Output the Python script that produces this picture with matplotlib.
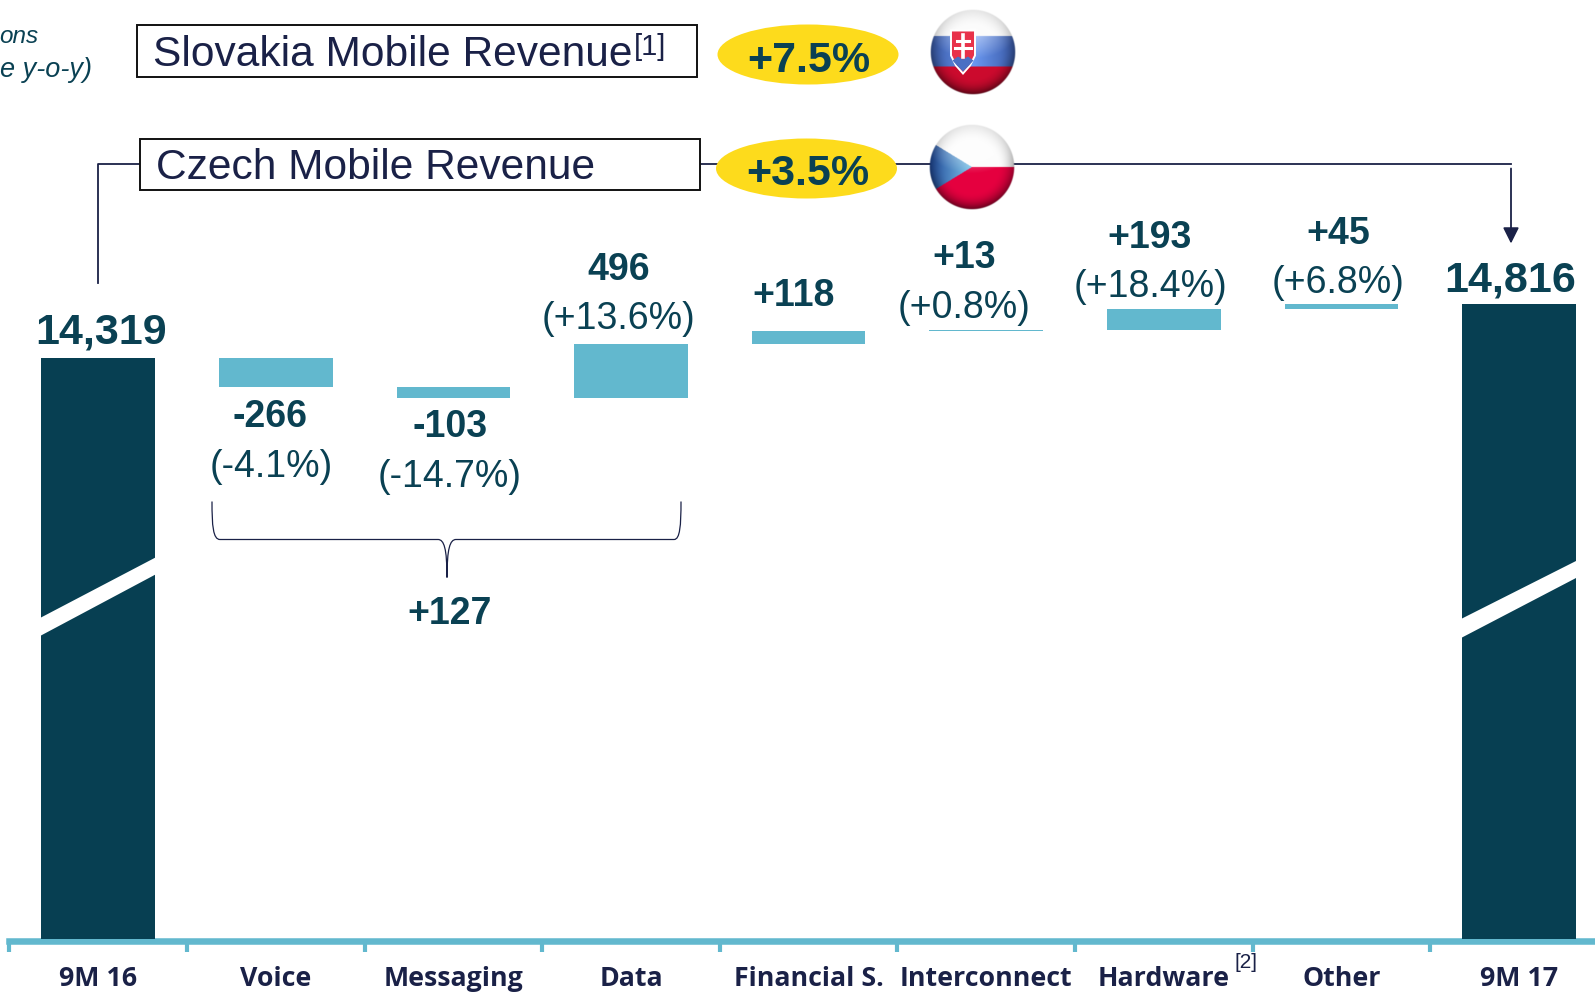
import numpy as np
import matplotlib
matplotlib.use('Agg')
import matplotlib.pyplot as plt
from matplotlib.patches import Ellipse, Rectangle, Polygon, PathPatch
from matplotlib.path import Path

# values, CZK millions
categories = ['9M 16', 'Voice', 'Messaging', 'Data', 'Financial S.', 'Interconnect', 'Hardware', 'Other', '9M 17']
start_value = 14319
end_value = 14816
deltas = [-266, -103, 496, 118, 13, 193, 45]
delta_labels = ['-266', '-103', '496', '+118', '+13', '+193', '+45']
pct_labels = ['(-4.1%)', '(-14.7%)', '(+13.6%)', '', '(+0.8%)', '(+18.4%)', '(+6.8%)']
group_total = '+127'
slovak_growth = '+7.5%'
czech_growth = '+3.5%'

DARK = '#073F52'
TEAL = '#62B8CE'
TXT = '#0A4153'
NAVY = '#1A2147'
YELLOW = '#FDDB1C'
W, H = 1595, 995

plt.rcParams['font.family'] = ['Liberation Sans', 'DejaVu Sans']
fig = plt.figure(figsize=(W / 100, H / 100), dpi=100)
ax = fig.add_axes([0, 0, 1, 1])

# y scale: 14319 sits at pixel 359, 0.1087 px per unit, base of the cut axis at pixel 939.5
py_scale = 0.1087
val_at = lambda py: start_value + (359 - py) / py_scale
base = val_at(939.5)
ax.set_ylim(val_at(995), val_at(0))
ax.set_xlim((0 - 98.2) / 177.6, (W - 98.2) / 177.6)

# waterfall
ax.bar(0, start_value - base, bottom=base, width=0.64, color=DARK, zorder=3)
ax.bar(8, end_value - base, bottom=base, width=0.64, color=DARK, zorder=3)
running = start_value
for i, d in enumerate(deltas):
    ax.bar(i + 1, abs(d), bottom=min(running, running + d), width=0.64, color=TEAL, zorder=3)
    running += d

# axis line with boundary ticks
for s in ['top', 'left', 'right']:
    ax.spines[s].set_visible(False)
ax.spines['bottom'].set_position(('data', val_at(942)))
ax.spines['bottom'].set_color(TEAL)
ax.spines['bottom'].set_linewidth(4.7)
ax.spines['bottom'].set_bounds(-0.5, ax.get_xlim()[1])
ax.set_yticks([])
ax.set_xticks(np.arange(-0.5, 8, 1))
ax.set_xticklabels([])
ax.tick_params(axis='x', which='major', length=8, width=3, color=TEAL)
ax.set_xticks(np.arange(len(categories)), labels=categories, minor=True)
ax.tick_params(axis='x', which='minor', length=0, pad=17, labelsize=19.3, labelcolor=NAVY)
for lab in ax.get_xticklabels(minor=True):
    lab.set_fontfamily('Open Sans')
    lab.set_fontweight('bold')

# overlay in pixel coordinates for the callouts
ov = fig.add_axes([0, 0, 1, 1], zorder=5)
ov.axis('off')
ov.patch.set_alpha(0)

def t(x, y, s, size, bold=False, color=TXT, ha='center', **kw):
    ov.text(x, y, s, fontsize=size, fontweight='bold' if bold else 'normal', color=color,
            ha=ha, va='center', **kw)

# breaks in the two tall bars
ov.add_patch(Polygon([(41, 617), (155.5, 557), (155.5, 574), (41, 635)], fc='white', ec='none'))
ov.add_patch(Polygon([(1462, 618), (1577, 560), (1577, 577), (1462, 637)], fc='white', ec='none'))

# value labels
label_pos = [(270, 416), (450, 426), (619, 269), (794, 295), (964, 257), (1150, 237), (1338, 233)]
pct_pos = [(271, 466), (450, 476), (619, 318), None, (964, 307), (1150, 286), (1338, 282)]
for s, p in zip(delta_labels, label_pos):
    t(p[0], p[1], s, 27, bold=True)
for s, p in zip(pct_labels, pct_pos):
    if p:
        t(p[0], p[1], s, 27)
t(101, 331, f'{start_value:,}', 31, bold=True)
t(1510, 279, f'{end_value:,}', 31, bold=True)
t(450, 613, group_total, 27, bold=True)

# brace under voice / messaging / data
brace = Path([(212, 501), (212, 525), (213, 539), (220, 539), (438, 539), (444, 539), (447, 548), (447, 577),
              (447, 548), (450, 539), (456, 539), (674, 539), (680, 539), (681, 525), (681, 501)],
             [Path.MOVETO, Path.CURVE4, Path.CURVE4, Path.CURVE4, Path.LINETO, Path.CURVE4, Path.CURVE4, Path.CURVE4,
              Path.CURVE4, Path.CURVE4, Path.CURVE4, Path.LINETO, Path.CURVE4, Path.CURVE4, Path.CURVE4])
ov.add_patch(PathPatch(brace, fc='none', ec=NAVY, lw=0.9))

# connector and arrow
ov.plot([97.5, 97.5, 140], [282, 163.5, 163.5], color=NAVY, lw=1.3)
ov.plot([700, 1511], [163.5, 163.5], color=NAVY, lw=1.3, zorder=1)
ov.annotate('', xy=(1511, 243), xytext=(1511, 168),
            arrowprops=dict(arrowstyle='-|>', color=NAVY, lw=1.3, mutation_scale=24, shrinkA=0, shrinkB=0))

# boxes
ov.add_patch(Rectangle((137, 24), 560, 52, fc='white', ec='#111111', lw=1.4, zorder=2))
ov.add_patch(Rectangle((140, 138), 560, 51, fc='white', ec='#111111', lw=1.4, zorder=2))
t(153, 53.5, 'Slovakia Mobile Revenue', 30.6, color=NAVY, ha='left', zorder=3)
t(634, 46, '[1]', 21, color=NAVY, ha='left', zorder=3)
t(156, 166.5, 'Czech Mobile Revenue', 30.6, color=NAVY, ha='left', zorder=3)
t(1246, 961, '[2]', 15, color=NAVY)

# pills
ov.add_patch(Ellipse((808, 54), 181, 60, fc=YELLOW, ec='none', zorder=2))
ov.add_patch(Ellipse((806.5, 168), 181, 60, fc=YELLOW, ec='none', zorder=2))
t(809, 59.5, slovak_growth, 31, bold=True, zorder=3)
t(808, 172.5, czech_growth, 31, bold=True, zorder=3)

# cropped unit note
t(38, 35, 'ons', 17.5, color=TXT, ha='right', style='italic')
t(92, 69, 'e y-o-y)', 19.5, color=TXT, ha='right', style='italic')

# glossy flag badges
def shade(rgb, yy, xx):
    r = np.sqrt(xx ** 2 + yy ** 2)
    edge = np.clip((r - 0.6) / 0.4, 0, 1) ** 2
    dark = 1 - 0.6 * edge * (0.15 + 0.85 * (yy + 1) / 2)
    out = rgb * dark[..., None]
    gloss = np.clip(0.5 * (1 - np.sqrt(xx ** 2 + ((yy + 0.45) / 0.6) ** 2)), 0, 0.5)
    out = out + (1 - out) * gloss[..., None]
    return np.dstack([out, np.clip((1 - r) * 40, 0, 1)])

def flag_image(kind, n=172):
    g = np.linspace(-1, 1, n)
    xx, yy = np.meshgrid(g, g)
    rgb = np.zeros((n, n, 3))
    light = np.clip(1 - np.abs(xx) * 0.9, 0, 1)[..., None]
    if kind == 'sk':
        blue = np.array([0.2, 0.32, 0.62]) * (1 - light) + np.array([0.42, 0.6, 0.95]) * light
        rgb[:] = (0.98, 0.98, 0.98)
        mask = yy > -0.37
        rgb[mask] = blue[mask]
        rgb[yy > 0.34] = (0.80, 0.04, 0.18)
    else:
        rgb[:] = (0.99, 0.99, 0.99)
        rgb[yy > 0] = (0.90, 0.0, 0.25)
        mix = np.clip(xx + 1, 0, 1)[..., None]
        blue = np.array([0.12, 0.28, 0.6]) * (1 - mix) + np.array([0.5, 0.78, 0.92]) * mix
        mask = (xx < 0) & (np.abs(yy) < -0.61 * xx)
        rgb[mask] = blue[mask]
    return shade(rgb, yy, xx)

ov.imshow(flag_image('sk'), extent=(929.5, 1015.5, 95, 9), zorder=4, interpolation='bilinear', aspect='auto')
ov.imshow(flag_image('cz'), extent=(928.5, 1014.5, 210, 124), zorder=4, interpolation='bilinear', aspect='auto')

# slovak shield with double cross
ov.add_patch(Polygon([(951, 30), (975, 30), (975, 55), (970, 65), (963, 73), (956, 65), (951, 55)],
                     fc='#E8324A', ec='white', lw=1.4, zorder=5))
ov.add_patch(Polygon([(952.5, 60), (958, 56), (963, 59), (968, 56), (973.5, 60), (969, 65), (963, 71), (957, 65)],
                     fc='#4A6FC4', ec='none', zorder=6))
ov.plot([963, 963], [34, 56], color='white', lw=2.6, zorder=6)
ov.plot([957, 969], [40, 40], color='white', lw=2.2, zorder=6)
ov.plot([955, 971], [47, 47], color='white', lw=2.2, zorder=6)

# shift the whole overlay down with the bars
ov.set_xlim(0, W)
ov.set_ylim(H - 1.5, -1.5)

fig.savefig('out.png', dpi=100)
